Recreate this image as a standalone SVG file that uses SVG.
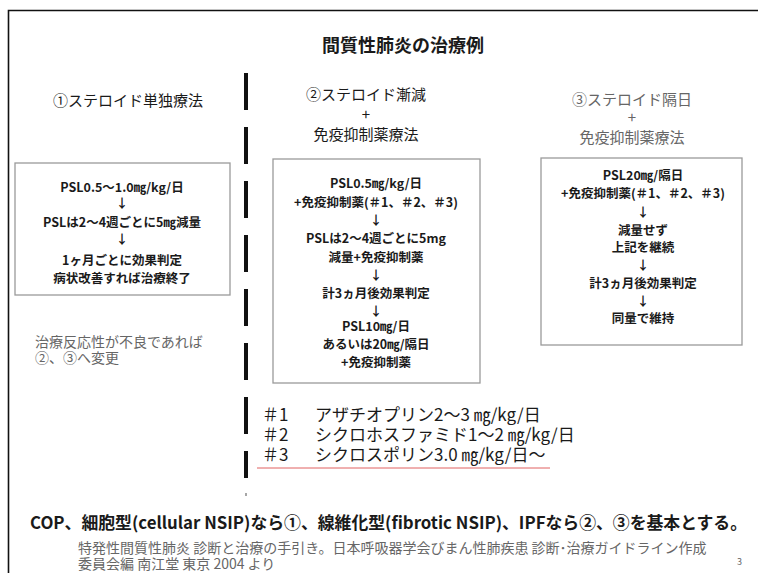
<svg xmlns="http://www.w3.org/2000/svg" width="758" height="573" viewBox="0 0 758 573">
<style>
text{font-family:"Noto Sans CJK JP","Noto Sans",sans-serif;fill:#1a1a1a}
.h{font-size:15px;text-anchor:middle}
.g{fill:#666}
.b{font-size:12.5px;text-anchor:middle;font-weight:bold}
.box{fill:#fff;stroke:#9a9a9a;stroke-width:1.3}
.l{font-size:17px}
</style>
<rect width="758" height="573" fill="#fff"/>
<g id="frame">
<path d="M8.5,573 V10.5 H758" fill="none" stroke="#111" stroke-width="1.6"/>
</g>
<text id="title" x="403" y="52" font-size="18" font-weight="bold" text-anchor="middle">間質性肺炎の治療例</text>
<g id="connectors">
<line x1="246" y1="73" x2="246" y2="478" stroke="#111" stroke-width="4" stroke-dasharray="37 17"/>
<line x1="246" y1="493" x2="246" y2="496" stroke="#888" stroke-width="1.5"/>
</g>
<g id="head1"><text class="h" x="128" y="106">①ステロイド単独療法</text></g>
<g id="head2">
<text class="h" x="366" y="100">②ステロイド漸減</text>
<text class="h" x="366" y="120">+</text>
<text class="h" x="366" y="140">免疫抑制薬療法</text>
</g>
<g id="head3">
<text class="h g" x="632" y="105">③ステロイド隔日</text>
<text class="h g" x="632" y="123">+</text>
<text class="h g" x="632" y="143">免疫抑制薬療法</text>
</g>
<g id="box1">
<rect class="box" x="15" y="163" width="215" height="132"/>
<text class="b" x="122" y="192">PSL0.5～1.0㎎/kg/日</text>
<text class="b" x="122" y="208">↓</text>
<text class="b" x="122" y="227">PSLは2～4週ごとに5㎎減量</text>
<text class="b" x="122" y="244">↓</text>
<text class="b" x="122" y="265">1ヶ月ごとに効果判定</text>
<text class="b" x="122" y="283">病状改善すれば治療終了</text>
</g>
<g id="note1">
<text class="g" x="35" y="347" font-size="14">治療反応性が不良であれば</text>
<text class="g" x="35" y="363" font-size="14">②、③へ変更</text>
</g>
<g id="box2">
<rect class="box" x="273" y="159" width="207" height="224"/>
<text class="b" x="376" y="188">PSL0.5㎎/kg/日</text>
<text class="b" x="376" y="207">+免疫抑制薬(＃1、＃2、＃3)</text>
<text class="b" x="376" y="225">↓</text>
<text class="b" x="376" y="243">PSLは2～4週ごとに5mg</text>
<text class="b" x="376" y="262">減量+免疫抑制薬</text>
<text class="b" x="376" y="280">↓</text>
<text class="b" x="376" y="298">計3ヵ月後効果判定</text>
<text class="b" x="376" y="316">↓</text>
<text class="b" x="376" y="331">PSL10㎎/日</text>
<text class="b" x="376" y="349">あるいは20㎎/隔日</text>
<text class="b" x="376" y="367">+免疫抑制薬</text>
</g>
<g id="box3">
<rect class="box" x="541" y="158" width="201" height="187"/>
<text class="b" x="643" y="180">PSL20㎎/隔日</text>
<text class="b" x="643" y="198">+免疫抑制薬(＃1、＃2、＃3)</text>
<text class="b" x="643" y="217">↓</text>
<text class="b" x="643" y="235">減量せず</text>
<text class="b" x="643" y="252">上記を継続</text>
<text class="b" x="643" y="270">↓</text>
<text class="b" x="643" y="288">計3ヵ月後効果判定</text>
<text class="b" x="643" y="306">↓</text>
<text class="b" x="643" y="323">同量で維持</text>
</g>
<g id="drugs">
<text class="l" x="262" y="421">＃1</text><text class="l" x="315" y="421">アザチオプリン2～3 ㎎/kg/日</text>
<text class="l" x="262" y="441">＃2</text><text class="l" x="315" y="441">シクロホスファミド1～2 ㎎/kg/日</text>
<text class="l" x="262" y="461">＃3</text><text class="l" x="315" y="461">シクロスポリン3.0 ㎎/kg/日～</text>
<line x1="257" y1="468" x2="550" y2="468" stroke="#e06060" stroke-width="1"/>
</g>
<text id="summary" x="30" y="529" font-size="17" font-weight="bold" textLength="717" lengthAdjust="spacingAndGlyphs">COP、細胞型(cellular NSIP)なら①、線維化型(fibrotic NSIP)、IPFなら②、③を基本とする。</text>
<g id="ref">
<text class="g" x="78" y="553" font-size="14">特発性間質性肺炎  診断と治療の手引き。日本呼吸器学会びまん性肺疾患  診断･治療ガイドライン作成</text>
<text class="g" x="78" y="569" font-size="14">委員会編  南江堂  東京  2004 より</text>
<text class="g" x="737" y="565" font-size="9">3</text>
</g>
</svg>
